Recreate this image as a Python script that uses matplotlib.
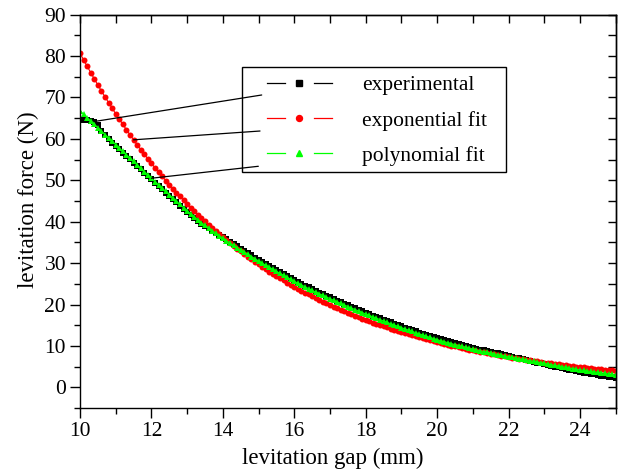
import matplotlib
matplotlib.use("Agg")
import matplotlib.pyplot as plt
from matplotlib.lines import Line2D
from matplotlib.legend_handler import HandlerBase
from matplotlib.patches import Rectangle
from matplotlib.ticker import MultipleLocator

plt.rcParams['font.family'] = ['Liberation Serif', 'DejaVu Serif']

gap = [
    10.0, 10.1, 10.2, 10.3, 10.4, 10.5, 10.6, 10.7, 10.8, 10.9,
    11.0, 11.1, 11.2, 11.3, 11.4, 11.5, 11.6, 11.7, 11.8, 11.9,
    12.0, 12.1, 12.2, 12.3, 12.4, 12.5, 12.6, 12.7, 12.8, 12.9,
    13.0, 13.1, 13.2, 13.3, 13.4, 13.5, 13.6, 13.7, 13.8, 13.9,
    14.0, 14.1, 14.2, 14.3, 14.4, 14.5, 14.6, 14.7, 14.8, 14.9,
    15.0, 15.1, 15.2, 15.3, 15.4, 15.5, 15.6, 15.7, 15.8, 15.9,
    16.0, 16.1, 16.2, 16.3, 16.4, 16.5, 16.6, 16.7, 16.8, 16.9,
    17.0, 17.1, 17.2, 17.3, 17.4, 17.5, 17.6, 17.7, 17.8, 17.9,
    18.0, 18.1, 18.2, 18.3, 18.4, 18.5, 18.6, 18.7, 18.8, 18.9,
    19.0, 19.1, 19.2, 19.3, 19.4, 19.5, 19.6, 19.7, 19.8, 19.9,
    20.0, 20.1, 20.2, 20.3, 20.4, 20.5, 20.6, 20.7, 20.8, 20.9,
    21.0, 21.1, 21.2, 21.3, 21.4, 21.5, 21.6, 21.7, 21.8, 21.9,
    22.0, 22.1, 22.2, 22.3, 22.4, 22.5, 22.6, 22.7, 22.8, 22.9,
    23.0, 23.1, 23.2, 23.3, 23.4, 23.5, 23.6, 23.7, 23.8, 23.9,
    24.0, 24.1, 24.2, 24.3, 24.4, 24.5, 24.6, 24.7, 24.8, 24.9,
    25.0]

experimental = [
    64.60, 64.60, 64.50, 64.40, 64.20, 63.30, 62.00, 60.90, 59.94, 59.12,
    58.30, 57.49, 56.68, 55.87, 55.06, 54.25, 53.44, 52.63, 51.82, 51.01,
    50.20, 49.40, 48.60, 47.80, 47.00, 46.20, 45.42, 44.64, 43.86, 43.08,
    42.30, 41.60, 40.90, 40.22, 39.56, 38.92, 38.38, 37.86, 37.34, 36.82,
    36.25, 35.73, 35.16, 34.59, 34.02, 33.45, 32.92, 32.39, 31.86, 31.33,
    30.80, 30.30, 29.80, 29.30, 28.80, 28.30, 27.82, 27.34, 26.86, 26.38,
    25.90, 25.46, 25.02, 24.58, 24.14, 23.70, 23.30, 22.90, 22.50, 22.10,
    21.70, 21.32, 20.94, 20.56, 20.18, 19.80, 19.44, 19.08, 18.72, 18.36,
    18.00, 17.66, 17.32, 16.98, 16.64, 16.30, 15.98, 15.66, 15.34, 15.02,
    14.70, 14.40, 14.10, 13.80, 13.50, 13.20, 12.92, 12.64, 12.36, 12.08,
    11.80, 11.56, 11.32, 11.08, 10.84, 10.60, 10.38, 10.16, 9.94, 9.72,
    9.50, 9.31, 9.12, 8.93, 8.74, 8.55, 8.36, 8.17, 7.97, 7.77,
    7.57, 7.38, 7.18, 6.98, 6.78, 6.58, 6.38, 6.18, 5.98, 5.78,
    5.58, 5.39, 5.20, 5.01, 4.82, 4.63, 4.44, 4.26, 4.07, 3.88,
    3.70, 3.55, 3.40, 3.25, 3.10, 2.95, 2.80, 2.66, 2.52, 2.38,
    2.25]

exponential_fit = [
    80.70, 79.10, 77.54, 76.00, 74.50, 73.02, 71.57, 70.16, 68.77, 67.41,
    66.07, 64.76, 63.48, 62.22, 60.99, 59.78, 58.60, 57.44, 56.30, 55.19,
    54.10, 53.02, 51.97, 50.94, 49.94, 48.95, 47.98, 47.03, 46.10, 45.18,
    44.29, 43.41, 42.55, 41.71, 40.88, 40.07, 39.28, 38.50, 37.74, 36.99,
    36.26, 35.54, 34.84, 34.15, 33.47, 32.81, 32.16, 31.52, 30.90, 30.29,
    29.69, 29.10, 28.52, 27.96, 27.41, 26.86, 26.33, 25.81, 25.30, 24.80,
    24.31, 23.82, 23.35, 22.89, 22.44, 21.99, 21.56, 21.13, 20.71, 20.30,
    19.90, 19.51, 19.12, 18.74, 18.37, 18.01, 17.65, 17.30, 16.96, 16.62,
    16.29, 15.97, 15.65, 15.34, 15.04, 14.74, 14.45, 14.16, 13.88, 13.61,
    13.34, 13.08, 12.82, 12.56, 12.31, 12.07, 11.83, 11.60, 11.37, 11.14,
    10.92, 10.71, 10.49, 10.29, 10.08, 9.88, 9.69, 9.50, 9.31, 9.12,
    8.94, 8.76, 8.59, 8.42, 8.25, 8.09, 7.93, 7.77, 7.62, 7.47,
    7.32, 7.18, 7.03, 6.89, 6.76, 6.62, 6.49, 6.36, 6.24, 6.12,
    5.99, 5.88, 5.76, 5.65, 5.53, 5.42, 5.32, 5.21, 5.11, 5.01,
    4.91, 4.81, 4.71, 4.62, 4.53, 4.44, 4.35, 4.27, 4.18, 4.10,
    4.02]

polynomial_fit = [
    66.80, 65.98, 65.16, 64.34, 63.52, 62.70, 61.88, 61.06, 60.24, 59.42,
    58.60, 57.79, 56.98, 56.17, 55.36, 54.55, 53.74, 52.93, 52.12, 51.31,
    50.50, 49.70, 48.90, 48.10, 47.30, 46.50, 45.72, 44.94, 44.16, 43.38,
    42.60, 41.90, 41.20, 40.50, 39.80, 39.10, 38.48, 37.86, 37.24, 36.62,
    36.00, 35.43, 34.86, 34.29, 33.72, 33.15, 32.62, 32.09, 31.56, 31.03,
    30.50, 30.00, 29.50, 29.00, 28.50, 28.00, 27.52, 27.04, 26.56, 26.08,
    25.60, 25.16, 24.72, 24.28, 23.84, 23.40, 23.00, 22.60, 22.20, 21.80,
    21.40, 21.02, 20.64, 20.26, 19.88, 19.50, 19.14, 18.78, 18.42, 18.06,
    17.70, 17.36, 17.02, 16.68, 16.34, 16.00, 15.68, 15.36, 15.04, 14.72,
    14.40, 14.10, 13.80, 13.50, 13.20, 12.90, 12.62, 12.34, 12.06, 11.78,
    11.50, 11.26, 11.02, 10.78, 10.54, 10.30, 10.08, 9.86, 9.64, 9.42,
    9.20, 9.01, 8.82, 8.63, 8.44, 8.25, 8.08, 7.91, 7.74, 7.57,
    7.40, 7.24, 7.08, 6.92, 6.76, 6.60, 6.44, 6.28, 6.12, 5.96,
    5.80, 5.64, 5.48, 5.32, 5.16, 5.00, 4.84, 4.68, 4.52, 4.36,
    4.20, 4.08, 3.96, 3.84, 3.72, 3.60, 3.48, 3.36, 3.24, 3.12,
    3.00]

labels = ["experimental", "exponential fit", "polynomial fit"]
colors = ["#000000", "#ff0000", "#00ff00"]
markers = ["s", "o", "^"]

FS = 15.5


class GapHandler(HandlerBase):
    def create_artists(self, legend, orig, xd, yd, w, h, fs, trans):
        y = (h - yd) / 2.0
        x0 = -xd
        x1 = -xd + w
        xm = (x0 + x1) / 2.0
        g = 0.22 * w
        c = orig.get_color()
        l1 = Line2D([x0, xm - g], [y, y], color=c, lw=0.9)
        l2 = Line2D([xm + g, x1], [y, y], color=c, lw=0.9)
        m = Line2D([xm], [y], marker=orig.get_marker(), color=c,
                   markersize=orig.get_markersize(), linestyle='none')
        for a in (l1, l2, m):
            a.set_transform(trans)
        return [l1, l2, m]


fig = plt.figure(figsize=(6.24, 4.74), dpi=100)
ax = fig.add_axes([0.1282, 0.1392, 0.9867 - 0.1282, 0.969 - 0.1392])

series = [experimental, exponential_fit, polynomial_fit]
sizes = [4.2, 4.3, 5.0]
handles = []
for ys, lab, c, mk, ms in zip(series, labels, colors, markers, sizes):
    ln, = ax.plot(gap, ys, color=c, lw=0.8, marker=mk, markersize=ms,
                  markeredgewidth=0, label=lab)
    handles.append(ln)

ax.set_xlim(10, 25)
ax.set_ylim(-5, 90)
ax.xaxis.set_major_locator(MultipleLocator(2))
ax.xaxis.set_minor_locator(MultipleLocator(1))
ax.yaxis.set_major_locator(MultipleLocator(10))
ax.yaxis.set_minor_locator(MultipleLocator(5))
ax.tick_params(which='both', direction='out', top=False, right=False,
               labelsize=FS, width=1.0, colors='black')
ax.tick_params(which='major', length=7, pad=3)
ax.tick_params(which='minor', length=4)
for s in ax.spines.values():
    s.set_linewidth(1.0)

sec_x = ax.secondary_xaxis('top')
sec_x.xaxis.set_major_locator(MultipleLocator(1))
sec_x.tick_params(direction='in', length=6, width=1.0, labeltop=False)
sec_x.spines['top'].set_linewidth(1.0)
sec_y = ax.secondary_yaxis('right')
sec_y.yaxis.set_major_locator(MultipleLocator(5))
sec_y.tick_params(direction='in', length=6, width=1.0, labelright=False)
sec_y.spines['right'].set_linewidth(1.0)

ax.set_xlabel("levitation gap (mm)", fontsize=16.5)
ax.set_ylabel("levitation force (N)", fontsize=16.5)
ax.xaxis.set_label_coords(0.471, -0.1017)
ax.yaxis.set_label_coords(-0.0765, 0.529)

leg = ax.legend(handles=handles, labels=labels,
                handler_map={Line2D: GapHandler()},
                loc='upper left', bbox_to_anchor=(0.4274, 0.841),
                bbox_transform=fig.transFigure, frameon=False,
                borderpad=0, borderaxespad=0, fontsize=FS,
                handlelength=3.02, handletextpad=1.39, labelspacing=0.70)

box = Rectangle((0.3873, 0.6365), 0.4236, 0.2228, transform=fig.transFigure,
                fill=False, edgecolor='black', lw=1.0, zorder=5)
fig.add_artist(box)

# pointer lines from the legend to the curves
targets = [(4, experimental), (15, exponential_fit), (20, polynomial_fit)]
starts = [(0.4194, 0.7996), (0.4167, 0.7236), (0.4140, 0.6492)]
for (i, ys), st in zip(targets, starts):
    ax.annotate('', xy=(gap[i], ys[i]), xycoords='data',
                xytext=st, textcoords='figure fraction',
                arrowprops=dict(arrowstyle='-', color='black', lw=0.9,
                                shrinkA=0, shrinkB=0))

fig.savefig("out.png", dpi=100)
